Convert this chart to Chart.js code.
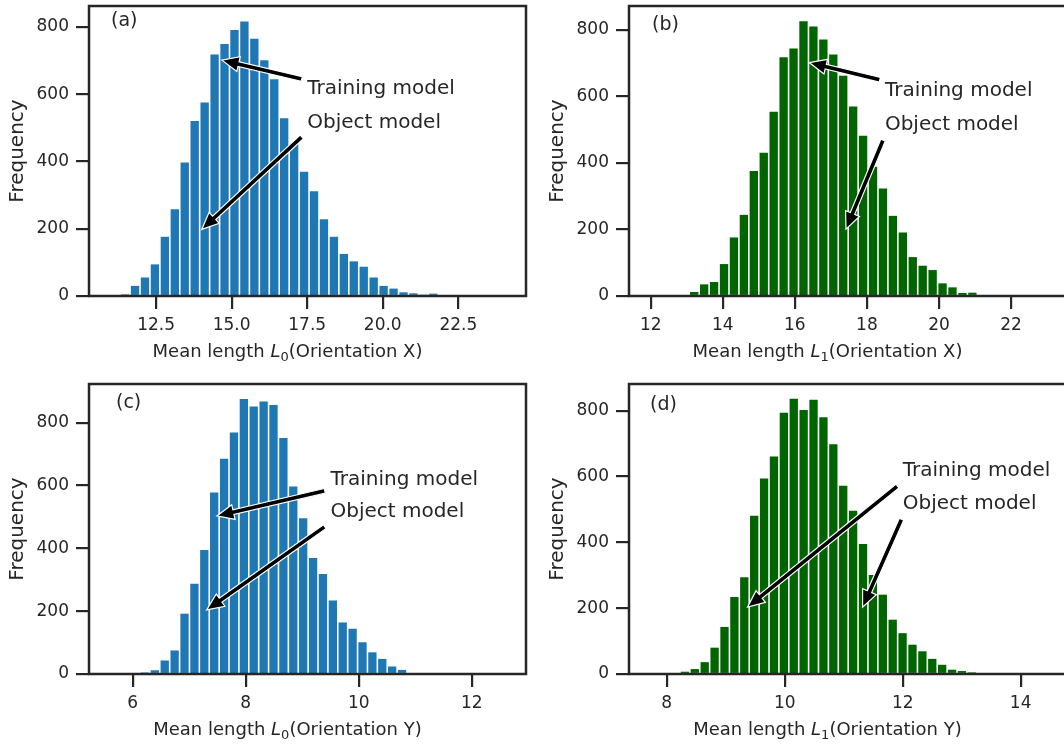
<!DOCTYPE html>
<html>
<head>
<meta charset="utf-8">
<script src="https://cdn.jsdelivr.net/npm/chart.js@4.4.1/dist/chart.umd.min.js"></script>
<style>
  html, body { margin: 0; padding: 0; background: #fff; overflow: hidden; width: 1064px; height: 745px; }
  canvas { position: absolute; }
</style>
</head>
<body>
<canvas id="chart-a"></canvas>
<canvas id="chart-b"></canvas>
<canvas id="chart-c"></canvas>
<canvas id="chart-d"></canvas>
<script>
// ── Data ──

// (a) mean length L0, orientation X
var binStartA = 11.31, binWidthA = 0.329;
var countsA = [5, 30, 55, 94, 176, 258, 397, 520, 575, 718, 749, 791, 816, 765, 701, 644,
               528, 454, 369, 311, 228, 176, 125, 103, 87, 55, 30, 22, 11, 8, 4, 7];
var xTicksA = ["12.5", "15.0", "17.5", "20.0", "22.5"];

// (b) mean length L1, orientation X
var binStartB = 13.07, binWidthB = 0.2757;
var countsB = [12, 35, 42, 96, 176, 244, 376, 431, 554, 718, 744, 826, 810, 771, 726,
               662, 570, 482, 389, 323, 241, 191, 117, 91, 78, 38, 26, 9, 10];
var xTicksB = ["12", "14", "16", "18", "20", "22"];

// (c) mean length L0, orientation Y
var binStartC = 6.13, binWidthC = 0.175;
var countsC = [5, 12, 43, 75, 192, 287, 395, 578, 685, 769, 875, 851, 867, 856,
               751, 597, 496, 369, 318, 234, 164, 144, 101, 69, 48, 24, 13];
var xTicksC = ["6", "8", "10", "12"];

// (d) mean length L1, orientation Y
var binStartD = 8.225, binWidthD = 0.1677;
var countsD = [7, 15, 36, 80, 143, 234, 294, 481, 594, 661, 794, 836, 802, 833, 780,
               698, 572, 496, 395, 301, 241, 165, 124, 89, 69, 46, 28, 13, 9, 5];
var xTicksD = ["8", "10", "12", "14"];

var yTicks = ["0", "200", "400", "600", "800"];

// annotations: text anchor [x, y], arrow tail [x, y], arrow tip [x, y] (data units)
var notesA = [
    { text: "Training model", at: [17.5, 600], tail: [17.32, 645], tip: [14.68, 701] },
    { text: "Object model",   at: [17.5, 500], tail: [17.32, 473], tip: [14.01, 198] }
];
var notesB = [
    { text: "Training model", at: [18.5, 600], tail: [18.36, 650], tip: [16.40, 702] },
    { text: "Object model",   at: [18.5, 500], tail: [18.45, 469], tip: [17.42, 201] }
];
var notesC = [
    { text: "Training model", at: [9.5, 600], tail: [9.40, 583], tip: [7.49, 503] },
    { text: "Object model",   at: [9.5, 500], tail: [9.40, 469], tip: [7.31, 204] }
];
var notesD = [
    { text: "Training model", at: [12.0, 600], tail: [11.91, 571], tip: [9.37, 203] },
    { text: "Object model",   at: [12.0, 500], tail: [11.98, 470], tip: [11.32, 203] }
];

// ── Style ──

var INK = "#262626";
var BLUE = "#1f77b4";
var GREEN = "#006400";
var FONT = "DejaVu Sans";

// ── Helpers ──

function binCenters(start, width, n) {
    var out = [];
    for (var i = 0; i < n; i++) out.push(start + width * (i + 0.5));
    return out;
}

function drawArrow(ctx, x0, y0, x1, y1) {
    var dx = x1 - x0, dy = y1 - y0;
    var len = Math.sqrt(dx * dx + dy * dy);
    var ux = dx / len, uy = dy / len, nx = -uy, ny = ux;
    var hw = 7.5, hl = 17, sw = 2.4;
    var bx = x1 - ux * hl, by = y1 - uy * hl;
    ctx.beginPath();
    ctx.moveTo(x0 + nx * sw, y0 + ny * sw);
    ctx.lineTo(bx + nx * sw, by + ny * sw);
    ctx.lineTo(bx + nx * hw, by + ny * hw);
    ctx.lineTo(x1, y1);
    ctx.lineTo(bx - nx * hw, by - ny * hw);
    ctx.lineTo(bx - nx * sw, by - ny * sw);
    ctx.lineTo(x0 - nx * sw, y0 - ny * sw);
    ctx.closePath();
    ctx.fillStyle = "#000";
    ctx.fill();
    ctx.strokeStyle = "#fff";
    ctx.lineWidth = 1.2;
    ctx.lineJoin = "miter";
    ctx.stroke();
}

function drawXLabel(ctx, cx, baseline, sub, orient) {
    var parts = [
        { t: "Mean length ", f: "18px '" + FONT + "'", dy: 0 },
        { t: "L", f: "italic 18px '" + FONT + "'", dy: 0 },
        { t: sub, f: "13px '" + FONT + "'", dy: 4.4 },
        { t: "(Orientation " + orient + ")", f: "18px '" + FONT + "'", dy: 0 }
    ];
    var total = 0;
    parts.forEach(function (p) { ctx.font = p.f; p.w = ctx.measureText(p.t).width; total += p.w; });
    var x = cx - total / 2;
    ctx.textAlign = "left";
    ctx.textBaseline = "alphabetic";
    ctx.fillStyle = INK;
    parts.forEach(function (p) {
        ctx.font = p.f;
        ctx.fillText(p.t, x, baseline + p.dy);
        x += p.w;
    });
}

function decorPlugin(cfg) {
    return {
        id: "decor",
        afterDraw: function (chart) {
            var ctx = chart.ctx, a = chart.chartArea;
            var xs = chart.scales.x, ys = chart.scales.y;
            ctx.save();

            cfg.notes.forEach(function (n) {
                drawArrow(ctx,
                    xs.getPixelForValue(n.tail[0]), ys.getPixelForValue(n.tail[1]),
                    xs.getPixelForValue(n.tip[0]), ys.getPixelForValue(n.tip[1]));
            });

            ctx.fillStyle = INK;
            ctx.font = "20px '" + FONT + "'";
            ctx.textAlign = "left";
            ctx.textBaseline = "alphabetic";
            cfg.notes.forEach(function (n) {
                ctx.fillText(n.text, xs.getPixelForValue(n.at[0]), ys.getPixelForValue(n.at[1]));
            });

            // panel letter
            ctx.font = "19px '" + FONT + "'";
            ctx.textBaseline = "middle";
            ctx.fillText(cfg.letter, a.left + cfg.letterPos[0], a.top + cfg.letterPos[1]);

            // frame
            ctx.strokeStyle = INK;
            ctx.lineWidth = 2.5;
            ctx.strokeRect(a.left, a.top, a.right - a.left, a.bottom - a.top);

            // y title
            ctx.save();
            ctx.translate(a.left - 71, (a.top + a.bottom) / 2);
            ctx.rotate(-Math.PI / 2);
            ctx.font = "20px '" + FONT + "'";
            ctx.textAlign = "center";
            ctx.textBaseline = "middle";
            ctx.fillText("Frequency", 0, 0);
            ctx.restore();

            drawXLabel(ctx, (a.left + a.right) / 2 - 20, a.bottom + 61, cfg.sub, cfg.orient);
            ctx.restore();
        }
    };
}

// ── Render ──

function renderPanel(cfg) {
    var canvas = document.getElementById(cfg.id);
    var box = cfg.box, area = cfg.area;
    canvas.width = box[2];
    canvas.height = box[3];
    canvas.style.left = box[0] + "px";
    canvas.style.top = box[1] + "px";
    canvas.style.width = box[2] + "px";
    canvas.style.height = box[3] + "px";

    var yWidth = area[0] - box[0];
    var xHeight = box[1] + box[3] - area[3];
    var padTop = area[1] - box[1];
    var padRight = box[0] + box[2] - area[2];

    var centers = binCenters(cfg.binStart, cfg.binWidth, cfg.counts.length);
    var points = cfg.counts.map(function (c, i) { return { x: centers[i], y: c }; });

    new Chart(canvas, {
        type: "bar",
        data: {
            datasets: [{
                data: points,
                backgroundColor: cfg.color,
                borderWidth: 0,
                barPercentage: 0.84,
                categoryPercentage: 1.0
            }]
        },
        options: {
            responsive: false,
            animation: false,
            devicePixelRatio: 1,
            layout: { padding: { left: 0, top: padTop, right: padRight, bottom: 0 } },
            plugins: { legend: { display: false }, tooltip: { enabled: false } },
            scales: {
                x: {
                    type: "linear",
                    min: cfg.xMin,
                    max: cfg.xMax,
                    offset: false,
                    border: { display: false },
                    grid: { offset: false, drawOnChartArea: false, drawTicks: true, tickLength: 13, lineWidth: 2.2, color: INK },
                    ticks: {
                        autoSkip: false, maxRotation: 0, padding: 6, color: INK,
                        font: { family: FONT, size: 17 },
                        callback: function (v, i) { return cfg.xTicks[i]; }
                    },
                    afterBuildTicks: function (s) {
                        s.ticks = cfg.xTicks.map(function (t) { return { value: parseFloat(t) }; });
                    },
                    afterFit: function (s) { s.height = xHeight; s.paddingLeft = 0; s.paddingRight = 0; }
                },
                y: {
                    type: "linear",
                    min: 0,
                    max: cfg.yMax,
                    border: { display: false },
                    grid: { drawOnChartArea: false, drawTicks: true, tickLength: 13, lineWidth: 2.2, color: INK },
                    ticks: {
                        autoSkip: false, padding: 7, color: INK,
                        font: { family: FONT, size: 17 },
                        callback: function (v, i) { return yTicks[i]; }
                    },
                    afterBuildTicks: function (s) {
                        s.ticks = yTicks.map(function (t) { return { value: parseFloat(t) }; });
                    },
                    afterFit: function (s) { s.width = yWidth; s.paddingTop = 0; s.paddingBottom = 0; }
                }
            }
        },
        plugins: [decorPlugin(cfg)]
    });
}

renderPanel({
    id: "chart-a", box: [0, 0, 540, 376], area: [89, 6, 526, 296],
    binStart: binStartA, binWidth: binWidthA, counts: countsA, xTicks: xTicksA,
    xMin: 10.28, xMax: 24.74, yMax: 862, color: BLUE,
    notes: notesA, letter: "(a)", letterPos: [22, 15.5], sub: "0", orient: "X"
});
renderPanel({
    id: "chart-b", box: [540, 0, 530, 376], area: [629, 6, 1066, 296],
    binStart: binStartB, binWidth: binWidthB, counts: countsB, xTicks: xTicksB,
    xMin: 11.398, xMax: 23.526, yMax: 872, color: GREEN,
    notes: notesB, letter: "(b)", letterPos: [23, 19], sub: "1", orient: "X"
});
renderPanel({
    id: "chart-c", box: [0, 378, 540, 367], area: [89, 384, 526, 674],
    binStart: binStartC, binWidth: binWidthC, counts: countsC, xTicks: xTicksC,
    xMin: 5.227, xMax: 12.961, yMax: 923, color: BLUE,
    notes: notesC, letter: "(c)", letterPos: [27, 19], sub: "0", orient: "Y"
});
renderPanel({
    id: "chart-d", box: [540, 378, 530, 367], area: [629, 384, 1066, 674],
    binStart: binStartD, binWidth: binWidthD, counts: countsD, xTicks: xTicksD,
    xMin: 7.361, xMax: 14.768, yMax: 881, color: GREEN,
    notes: notesD, letter: "(d)", letterPos: [21, 21], sub: "1", orient: "Y"
});
</script>
</body>
</html>
